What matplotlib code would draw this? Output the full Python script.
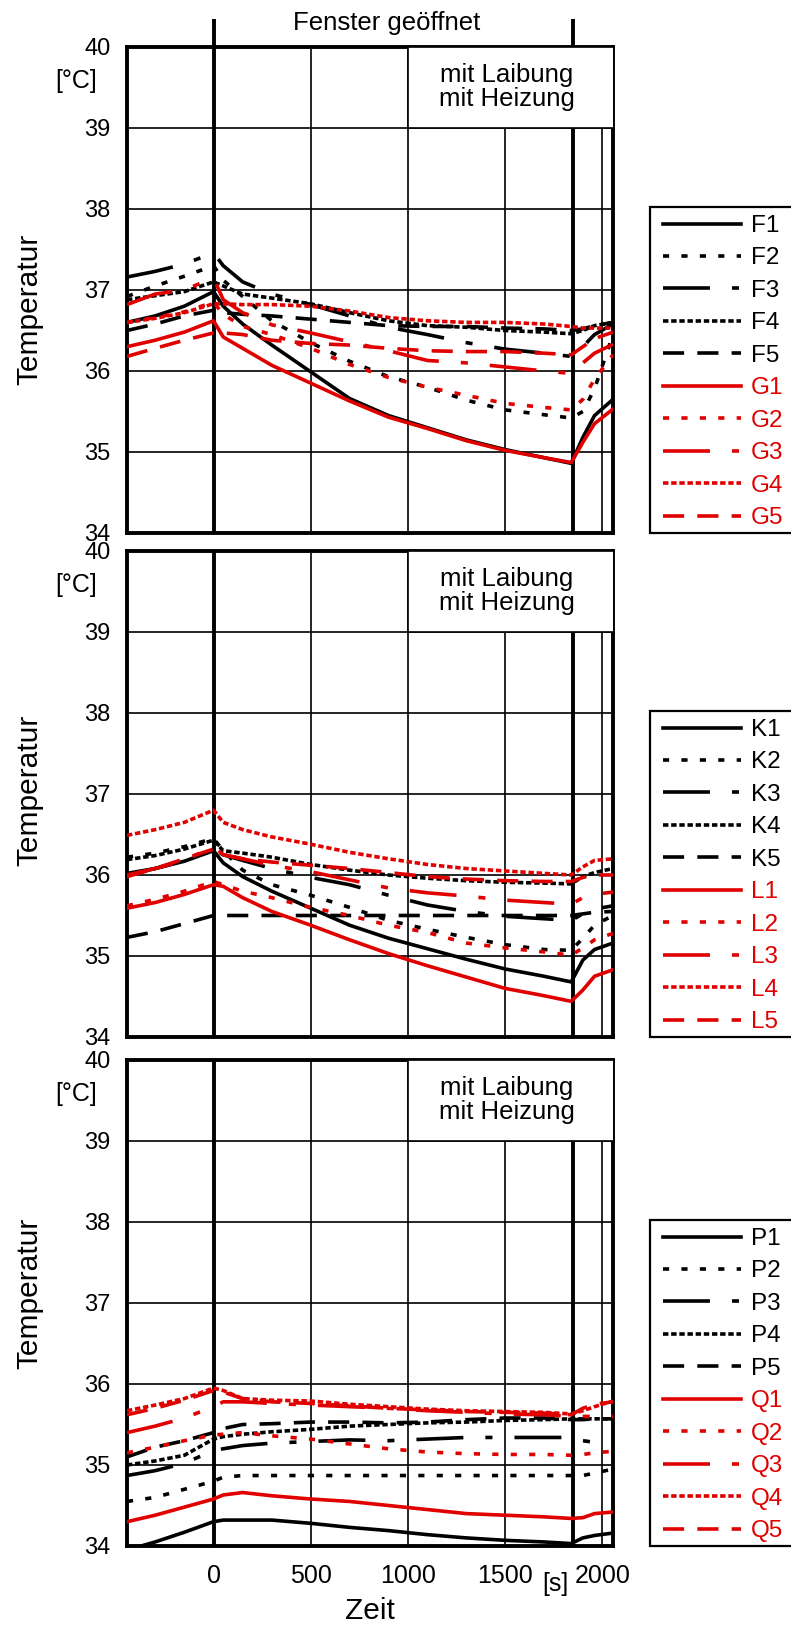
import matplotlib.pyplot as plt
from matplotlib.patches import Rectangle
from matplotlib.transforms import blended_transform_factory

plt.rcParams['font.family'] = ['Liberation Sans', 'DejaVu Sans']

# time axis [s]
t = [-445, -300, -150, 0, 50, 150, 300, 500, 700, 900, 1100, 1300, 1500, 1700, 1840, 1900, 1960, 2055]

# panel 1: F / G sensors [°C]
F1 = [36.60, 36.68, 36.80, 36.98, 36.80, 36.58, 36.32, 35.99, 35.66, 35.45, 35.30, 35.15, 35.03, 34.93, 34.86, 35.18, 35.45, 35.65]
F2 = [36.92, 37.05, 37.17, 37.30, 37.12, 36.92, 36.62, 36.35, 36.12, 35.93, 35.80, 35.64, 35.52, 35.46, 35.42, 35.50, 35.78, 36.45]
F3 = [37.16, 37.23, 37.32, 37.46, 37.30, 37.10, 36.95, 36.82, 36.68, 36.54, 36.45, 36.35, 36.27, 36.22, 36.18, 36.30, 36.45, 36.58]
F4 = [36.88, 36.93, 36.98, 37.10, 37.05, 36.95, 36.90, 36.83, 36.72, 36.62, 36.56, 36.54, 36.50, 36.48, 36.46, 36.50, 36.56, 36.60]
F5 = [36.50, 36.58, 36.68, 36.75, 36.72, 36.70, 36.68, 36.64, 36.60, 36.56, 36.55, 36.55, 36.53, 36.52, 36.50, 36.52, 36.56, 36.60]
G1 = [36.30, 36.38, 36.48, 36.62, 36.42, 36.28, 36.07, 35.85, 35.63, 35.43, 35.29, 35.14, 35.02, 34.93, 34.87, 35.12, 35.35, 35.53]
G2 = [36.60, 36.66, 36.73, 36.85, 36.70, 36.55, 36.45, 36.28, 36.08, 35.92, 35.80, 35.70, 35.60, 35.55, 35.52, 35.65, 35.90, 36.20]
G3 = [36.82, 36.95, 37.00, 37.15, 36.88, 36.72, 36.57, 36.47, 36.36, 36.25, 36.13, 36.10, 36.05, 36.00, 35.97, 36.10, 36.22, 36.33]
G4 = [36.60, 36.65, 36.72, 36.83, 36.83, 36.82, 36.82, 36.80, 36.74, 36.66, 36.62, 36.60, 36.60, 36.58, 36.55, 36.53, 36.53, 36.53]
G5 = [36.18, 36.28, 36.38, 36.47, 36.47, 36.45, 36.38, 36.34, 36.32, 36.28, 36.25, 36.24, 36.24, 36.22, 36.20, 36.30, 36.40, 36.48]

# panel 2: K / L sensors
K1 = [36.02, 36.08, 36.17, 36.30, 36.15, 35.98, 35.80, 35.59, 35.38, 35.22, 35.09, 34.96, 34.84, 34.75, 34.68, 34.95, 35.08, 35.16]
K2 = [36.22, 36.27, 36.35, 36.45, 36.30, 36.06, 35.88, 35.75, 35.60, 35.44, 35.33, 35.23, 35.14, 35.08, 35.07, 35.22, 35.38, 35.50]
K3 = [36.00, 36.08, 36.18, 36.32, 36.25, 36.18, 36.08, 35.97, 35.88, 35.75, 35.63, 35.55, 35.49, 35.46, 35.44, 35.52, 35.58, 35.62]
K4 = [36.19, 36.24, 36.32, 36.43, 36.30, 36.27, 36.22, 36.13, 36.06, 36.00, 35.96, 35.93, 35.91, 35.90, 35.89, 35.98, 36.03, 36.08]
K5 = [35.23, 35.30, 35.40, 35.50, 35.50, 35.50, 35.50, 35.50, 35.50, 35.50, 35.50, 35.50, 35.50, 35.50, 35.50, 35.52, 35.54, 35.55]
L1 = [35.59, 35.66, 35.76, 35.88, 35.86, 35.72, 35.55, 35.38, 35.20, 35.03, 34.88, 34.74, 34.60, 34.51, 34.44, 34.58, 34.75, 34.83]
L2 = [35.62, 35.70, 35.80, 35.92, 35.88, 35.80, 35.72, 35.60, 35.50, 35.38, 35.29, 35.16, 35.10, 35.05, 35.01, 35.10, 35.20, 35.28]
L3 = [36.00, 36.08, 36.18, 36.35, 36.25, 36.20, 36.12, 36.04, 35.94, 35.84, 35.78, 35.74, 35.69, 35.66, 35.64, 35.72, 35.76, 35.79]
L4 = [36.49, 36.56, 36.65, 36.80, 36.65, 36.56, 36.47, 36.38, 36.28, 36.20, 36.13, 36.08, 36.05, 36.02, 36.00, 36.10, 36.18, 36.20]
L5 = [35.98, 36.08, 36.20, 36.32, 36.25, 36.20, 36.16, 36.12, 36.08, 36.03, 35.98, 35.95, 35.93, 35.92, 35.92, 35.97, 36.00, 36.00]

# panel 3: P / Q sensors
P1 = [33.95, 34.05, 34.17, 34.30, 34.32, 34.32, 34.32, 34.28, 34.23, 34.19, 34.14, 34.10, 34.07, 34.05, 34.03, 34.10, 34.13, 34.16]
P2 = [34.55, 34.60, 34.70, 34.80, 34.85, 34.87, 34.87, 34.87, 34.87, 34.87, 34.87, 34.87, 34.87, 34.87, 34.87, 34.87, 34.90, 34.95]
P3 = [34.87, 34.93, 35.02, 35.18, 35.20, 35.24, 35.27, 35.29, 35.31, 35.30, 35.32, 35.34, 35.34, 35.34, 35.34, 35.30, 35.28, 35.28]
P4 = [35.00, 35.05, 35.12, 35.32, 35.35, 35.38, 35.41, 35.44, 35.48, 35.50, 35.52, 35.53, 35.55, 35.56, 35.57, 35.57, 35.57, 35.57]
P5 = [35.10, 35.22, 35.30, 35.40, 35.45, 35.50, 35.51, 35.53, 35.53, 35.52, 35.53, 35.56, 35.58, 35.58, 35.56, 35.56, 35.57, 35.57]
Q1 = [34.30, 34.38, 34.48, 34.58, 34.63, 34.66, 34.62, 34.58, 34.55, 34.50, 34.45, 34.40, 34.38, 34.36, 34.34, 34.35, 34.40, 34.42]
Q2 = [35.15, 35.22, 35.30, 35.37, 35.38, 35.40, 35.36, 35.32, 35.26, 35.20, 35.16, 35.14, 35.13, 35.13, 35.12, 35.13, 35.15, 35.17]
Q3 = [35.40, 35.48, 35.58, 35.72, 35.78, 35.78, 35.76, 35.74, 35.72, 35.70, 35.67, 35.65, 35.63, 35.62, 35.60, 35.60, 35.60, 35.60]
Q4 = [35.67, 35.74, 35.82, 35.95, 35.92, 35.82, 35.80, 35.79, 35.75, 35.72, 35.69, 35.67, 35.66, 35.65, 35.63, 35.67, 35.72, 35.79]
Q5 = [35.62, 35.70, 35.80, 35.92, 35.90, 35.82, 35.78, 35.76, 35.73, 35.70, 35.68, 35.66, 35.65, 35.64, 35.62, 35.70, 35.75, 35.78]

panels = [
    (['F1', 'F2', 'F3', 'F4', 'F5', 'G1', 'G2', 'G3', 'G4', 'G5'], [F1, F2, F3, F4, F5, G1, G2, G3, G4, G5]),
    (['K1', 'K2', 'K3', 'K4', 'K5', 'L1', 'L2', 'L3', 'L4', 'L5'], [K1, K2, K3, K4, K5, L1, L2, L3, L4, L5]),
    (['P1', 'P2', 'P3', 'P4', 'P5', 'Q1', 'Q2', 'Q3', 'Q4', 'Q5'], [P1, P2, P3, P4, P5, Q1, Q2, Q3, Q4, Q5]),
]

RED = '#e00000'
LW = 2.6
styles = ['-', (0, (1.7, 3.4)), (0, (13, 6.1, 1.95, 6.1)), (0, (1.5, 0.76)), (0, (5.85, 3.65))] * 2
colors = ['black'] * 5 + [RED] * 5

W, H = 791, 1627
fig = plt.figure(figsize=(W / 100, H / 100), dpi=100)

ax_left, ax_right = 127, 613
tops = [47, 551, 1060]
bots = [533, 1037, 1546]
ylab_y = [309, 790, 1293]

for i, (names, series) in enumerate(panels):
    ax = fig.add_axes([ax_left / W, 1 - bots[i] / H, (ax_right - ax_left) / W, (bots[i] - tops[i]) / H])
    ax.set_xlim(-445, 2055)
    ax.set_ylim(34, 40)

    for x in [500, 1000, 1500, 2000]:
        ax.axvline(x, color='black', lw=1.2, zorder=1)
    for y in [35, 36, 37, 38, 39]:
        ax.axhline(y, color='black', lw=1.2, zorder=1)
    for x in [0, 1850]:
        ax.axvline(x, color='black', lw=2.8, zorder=2)
        if i == 0:
            ax.plot([x, x], [40, 40.34], color='black', lw=2.8, clip_on=False, solid_capstyle='butt')

    ax.add_patch(Rectangle((1000, 39), 1100, 1, facecolor='white', edgecolor='black', lw=1.2, zorder=2.6))
    ax.text(1510, 39.5, 'mit Laibung\nmit Heizung', ha='center', va='center',
            fontsize=18.5, linespacing=1.0, zorder=2.7)

    handles = []
    for j, vals in enumerate(series):
        ln, = ax.plot(t, vals, color=colors[j], ls=styles[j], lw=LW, zorder=3)
        handles.append(ln)

    ax.set_yticks(range(34, 41))
    ax.set_xticks([0, 500, 1000, 1500, 2000])
    ax.tick_params(length=0, labelsize=17, pad=12)
    ax.tick_params(axis='x', labelsize=18, pad=13)
    if i < 2:
        ax.tick_params(labelbottom=False)
    for sp in ax.spines.values():
        sp.set_linewidth(2.8)

    tr = blended_transform_factory(ax.transAxes, ax.transData)
    ax.text(-0.105, 39.58, '[°C]', transform=tr, ha='center', va='center', fontsize=18)

    fig.text(29 / W, 1 - ylab_y[i] / H, 'Temperatur', rotation=90, ha='center', va='center', fontsize=21.5)

    # legend with its own frame running off the right edge
    ftop = bots[i] - 326
    fig.patches.append(Rectangle((650 / W, 1 - bots[i] / H), 0.3, 326 / H, transform=fig.transFigure,
                                 facecolor='white', edgecolor='black', lw=1.6, zorder=-1))
    ax.legend(handles, names, loc='upper left', bbox_to_anchor=(663 / W, 1 - (ftop + 8) / H),
              bbox_transform=fig.transFigure, frameon=False, borderpad=0, borderaxespad=0,
              handlelength=3.2, handletextpad=0.42, labelspacing=0.43, fontsize=17.5,
              labelcolor='linecolor')

fig.text(0.489, 1 - 23 / H, 'Fenster geöffnet', ha='center', va='center', fontsize=18.5)
fig.text(370 / W, 1 - 1611 / H, 'Zeit', ha='center', va='center', fontsize=21.5)
fig.text(555 / W, 1 - 1584 / H, '[s]', ha='center', va='center', fontsize=18)

fig.savefig('out.png', dpi=100)
